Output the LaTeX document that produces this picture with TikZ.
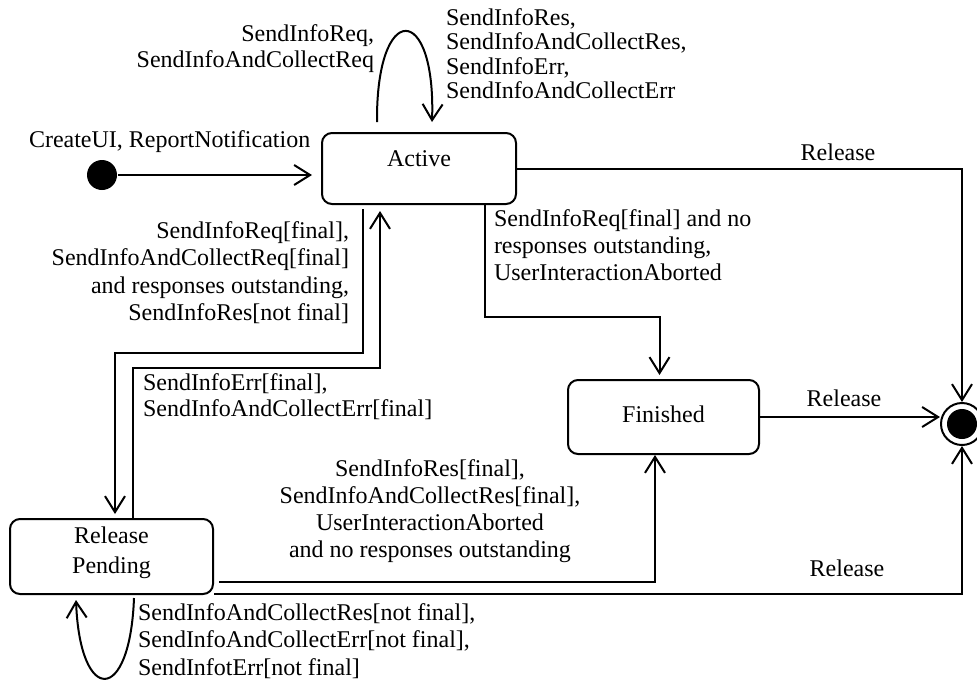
\documentclass[tikz,border=0pt]{standalone}
\usepackage{fontspec}
\setmainfont{Liberation Serif}
\usetikzlibrary{arrows.meta,calc}
\begin{document}
\begin{tikzpicture}[x=1pt,y=-1pt,
  line width=2pt,
  arr/.style={-{Straight Barb[length=16pt,width=20pt]}},
  lbl/.style={inner sep=0pt, font=\fontsize{24}{27}\selectfont},
  statebox/.style={draw, rounded corners=10pt, inner sep=0pt, align=center, font=\fontsize{24}{30}\selectfont}]
\useasboundingbox (0,0) rectangle (977,681);

% states
\node[statebox, minimum width=194pt, minimum height=71pt, text height=16pt, text depth=21pt] (active) at (419,168.5) {Active};
\node[statebox, minimum width=191pt, minimum height=74pt, text height=16pt, text depth=6pt] (finished) at (663.5,417) {Finished};
\node[statebox, minimum width=203pt, minimum height=75pt] (rp) at (111.5,556.5) {Release\\Pending\rule[-13pt]{0pt}{1pt}};
\node[circle, fill, minimum size=30pt, inner sep=0pt] (init) at (102,175) {};
\node[circle, draw, minimum size=42pt, inner sep=0pt] (final) at (962,424) {};
\node[circle, fill, minimum size=30pt, inner sep=0pt] (finaldot) at (final.center) {};

% helper coordinates
\coordinate (la) at ($(active.north west)+(56,-10)$);
\coordinate (lb) at ($(active.north west)+(111,-10)$);
\coordinate (af) at (485,317);
\coordinate (ar) at (363,353);
\coordinate (ra) at (133,368);
\coordinate (ra2) at (380,368);
\coordinate (rf) at (655,582);
\coordinate (pa) at ($(rp.south west)+(125,3)$);
\coordinate (pb) at ($(rp.south west)+(67,5)$);

% connectors
\draw[arr, shorten >=9pt] (init) -- (init -| active.west);
\draw[arr] (la) .. controls (376,0) and (436,2) .. (lb);
\draw[arr] (active.east) -| (final.north);
\draw[arr, shorten >=4pt] (active.south -| af) -- (af) -| ([xshift=-4pt]finished.north);
\draw[arr, shorten <=4pt, shorten >=4pt] (active.south -| ar) -- (ar) -| ([xshift=3.5pt]rp.north);
\draw[arr, shorten >=6pt] (rp.north -| ra) -- (ra) -- (ra2) -- (ra2 |- active.south);
\draw[arr, shorten <=5pt] (rp.east |- rf) -- (rf) -- (rf |- finished.south);
\draw[arr] ([yshift=1pt]rp.south east) -| (final.south);
\draw[arr] (finished.east) -- (finished.east -| final.west);
\draw[arr] (pa) .. controls (130,705) and (80,705) .. (pb);

% labels (base anchor = baseline of the last line)
\node[lbl, anchor=base west] (lcreate) at (28,147) {CreateUI, ReportNotification};
\node[lbl, anchor=base east, align=right, font=\fontsize{24}{26}\selectfont] (lreq) at (375,67) {SendInfoReq,\\SendInfoAndCollectReq};
\node[lbl, anchor=base west, align=left, font=\fontsize{24}{24.5}\selectfont] (lres) at (445,98.5) {SendInfoRes,\\SendInfoAndCollectRes,\\SendInfoErr,\\SendInfoAndCollectErr};
\node[lbl, anchor=base] (lrel1) at (838,160) {Release};
\node[lbl, anchor=base west, align=left] (lfin) at (493,280) {SendInfoReq[final] and no\\responses outstanding,\\UserInteractionAborted};
\node[lbl, anchor=base east, align=right, font=\fontsize{24}{27.5}\selectfont] (lrpa) at (350,320.5) {SendInfoReq[final],\\SendInfoAndCollectReq[final]\\and responses outstanding,\\SendInfoRes[not final]};
\node[lbl, anchor=base west, align=left, font=\fontsize{24}{26}\selectfont] (lerr) at (142,416) {SendInfoErr[final],\\SendInfoAndCollectErr[final]};
\node[lbl, anchor=base, align=center] (lrpf) at (430,557) {SendInfoRes[final],\\SendInfoAndCollectRes[final],\\UserInteractionAborted\\and no responses outstanding};
\node[lbl, anchor=base] (lrel2) at (844,406) {Release};
\node[lbl, anchor=base] (lrel3) at (847,576) {Release};
\node[lbl, anchor=base west, align=left, font=\fontsize{24}{27.5}\selectfont] (lnf) at (137,675) {SendInfoAndCollectRes[not final],\\SendInfoAndCollectErr[not final],\\SendInfotErr[not final]};
\end{tikzpicture}
\end{document}
